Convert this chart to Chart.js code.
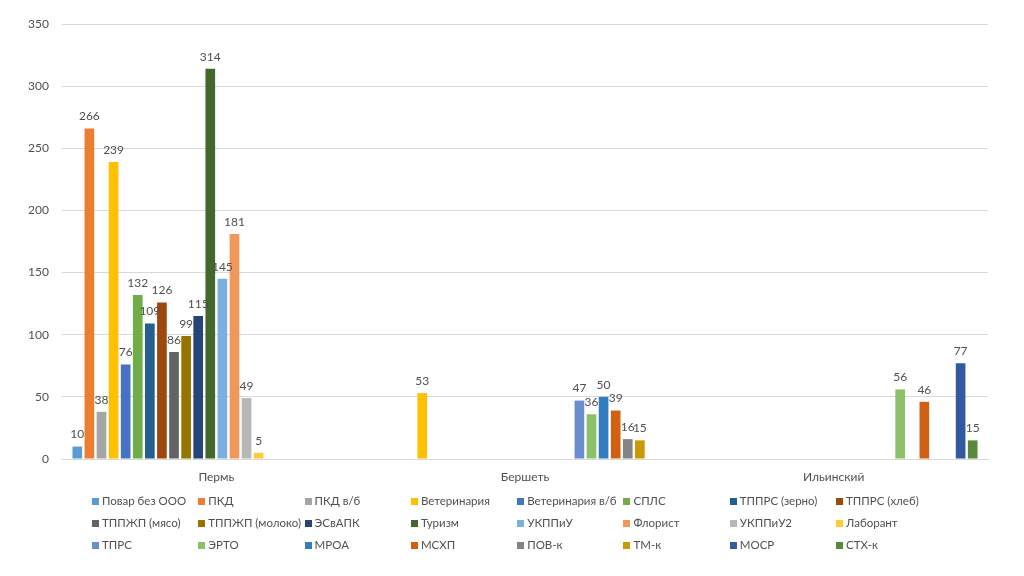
<!DOCTYPE html>
<html>
<head>
<meta charset="utf-8">
<script src="https://cdn.jsdelivr.net/npm/chart.js@4"></script>
<style>
  html, body { margin: 0; padding: 0; background: #fff; }
  #wrap { position: relative; width: 1024px; height: 576px; }
  #c { position: absolute; left: 0; top: 0; }
  #legend { position: absolute; left: 88px; top: 490px; display: grid;
    grid-template-columns: repeat(8, 106.3px); grid-auto-rows: 22px;
    font-family: Lato, "Open Sans", sans-serif; font-size: 11.5px; color: #505050; }
  .li { display: flex; align-items: center; white-space: nowrap; line-height: 22px; }
  .sw { width: 7px; height: 7px; margin-left: 4px; margin-right: 3px; flex: none; }
</style>
</head>
<body>
<div id="wrap">
  <canvas id="c" width="1024" height="576"></canvas>
  <div id="legend"></div>
</div>
<script>
const categories = ['Пермь', 'Бершеть', 'Ильинский'];
const yTicks = [0, 50, 100, 150, 200, 250, 300, 350];
const seriesNames = ['Повар без ООО', 'ПКД', 'ПКД в/б', 'Ветеринария', 'Ветеринария в/б', 'СПЛС',
  'ТППРС (зерно)', 'ТППРС (хлеб)', 'ТППЖП (мясо)', 'ТППЖП (молоко)', 'ЭСвАПК', 'Туризм',
  'УКППиУ', 'Флорист', 'УКППиУ2', 'Лаборант', 'ТПРС', 'ЭРТО', 'МРОА', 'МСХП', 'ПОВ-к', 'ТМ-к', 'МОСР', 'СТХ-к'];
const seriesColors = ['#5B9BD5', '#ED7D31', '#A5A5A5', '#FFC000', '#4472C4', '#70AD47',
  '#255E91', '#9E480E', '#636363', '#997300', '#264478', '#43682B',
  '#7CAFDD', '#F1975A', '#B7B7B7', '#FFCD33', '#698ED0', '#8CC168', '#327DC2', '#D26012',
  '#848484', '#CC9A00', '#335AA1', '#5A8A39'];
const permValues = [10, 266, 38, 239, 76, 132, 109, 126, 86, 99, 115, 314, 145, 181, 49, 5,
  null, null, null, null, null, null, null, null];
const bershetValues = [null, null, null, 53, null, null, null, null, null, null, null, null,
  null, null, null, null, 47, 36, 50, 39, 16, 15, null, null];
const ilinskyValues = [null, null, null, null, null, null, null, null, null, null, null, null,
  null, null, null, null, null, 56, null, 46, null, null, 77, 15];

const FONT = 'Lato, "Open Sans", sans-serif';
const TXT = '#505050';

const datasets = seriesNames.map((name, i) => ({
  label: name,
  data: [permValues[i], bershetValues[i], ilinskyValues[i]],
  backgroundColor: seriesColors[i],
  borderWidth: 0,
  categoryPercentage: 0.94,
  barPercentage: 0.8
}));

const valueLabels = {
  id: 'valueLabels',
  afterDatasetsDraw(chart) {
    const ctx = chart.ctx;
    ctx.save();
    ctx.font = '12px ' + FONT;
    ctx.fillStyle = TXT;
    ctx.textAlign = 'center';
    ctx.textBaseline = 'bottom';
    chart.data.datasets.forEach((ds, di) => {
      const meta = chart.getDatasetMeta(di);
      meta.data.forEach((bar, j) => {
        const v = ds.data[j];
        if (v === null || v === undefined) return;
        ctx.fillText(String(v), bar.x, bar.y - 6);
      });
    });
    ctx.restore();
  }
};

new Chart(document.getElementById('c'), {
  type: 'bar',
  data: { labels: categories, datasets },
  options: {
    responsive: false,
    animation: false,
    layout: { padding: { top: 24, right: 36, bottom: 87, left: 0 } },
    plugins: { legend: { display: false }, tooltip: { enabled: false } },
    scales: {
      x: {
        grid: { display: false, drawTicks: false },
        border: { display: true, color: '#D9D9D9' },
        ticks: { color: TXT, font: { family: FONT, size: 12 }, padding: 11 },
        afterFit(s) { s.height = 30; }
      },
      y: {
        min: 0, max: 350,
        afterBuildTicks(s) { s.ticks = yTicks.map(v => ({ value: v })); },
        grid: { color: '#D9D9D9', drawTicks: false },
        border: { display: false },
        ticks: { color: TXT, font: { family: FONT, size: 12 }, padding: 13 },
        afterFit(s) { s.width = 62; }
      }
    }
  },
  plugins: [valueLabels]
});

const leg = document.getElementById('legend');
seriesNames.forEach((name, i) => {
  const d = document.createElement('div');
  d.className = 'li';
  const sw = document.createElement('span');
  sw.className = 'sw';
  sw.style.background = seriesColors[i];
  const t = document.createElement('span');
  t.textContent = name;
  d.appendChild(sw); d.appendChild(t);
  leg.appendChild(d);
});
</script>
</body>
</html>
